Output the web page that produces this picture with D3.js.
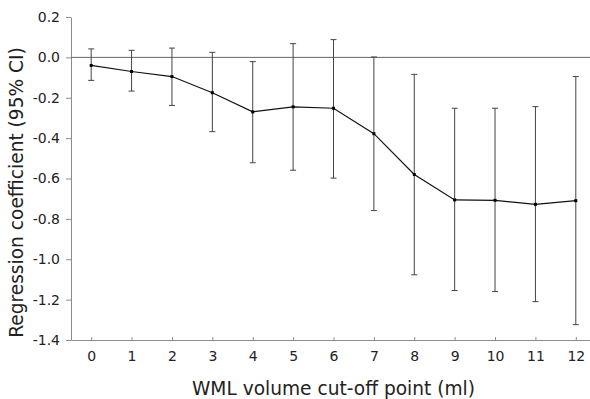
<!DOCTYPE html>
<html><head><meta charset="utf-8">
<script src="https://cdn.jsdelivr.net/npm/d3@7"></script>
<style>body{margin:0;background:#fff}svg{display:block}text{font-family:"DejaVu Sans",Verdana,sans-serif}</style>
</head><body><svg id="c" width="590" height="399"></svg>
<script>
const cutoffs = [0,1,2,3,4,5,6,7,8,9,10,11,12];
const coef  = [-0.04,-0.07,-0.095,-0.175,-0.27,-0.245,-0.252,-0.378,-0.58,-0.706,-0.708,-0.728,-0.71];
const upper = [0.042,0.035,0.046,0.025,-0.021,0.068,0.088,0.002,-0.084,-0.252,-0.252,-0.244,-0.095];
const lower = [-0.114,-0.167,-0.238,-0.368,-0.522,-0.559,-0.598,-0.759,-1.077,-1.155,-1.16,-1.21,-1.324];
const yTicks = [0.2,0.0,-0.2,-0.4,-0.6,-0.8,-1.0,-1.2,-1.4];

const svg = d3.select("#c");
const x = d3.scalePoint().domain(cutoffs).range([71, 596]).padding(0.5);
const y = d3.scaleLinear().domain([-1.4, 0.2]).range([340, 17]);
const axisCol = "#8c8c8c", txt = "#222";

// y axis
const ya = svg.append("g").attr("transform","translate(71,0)")
  .call(d3.axisLeft(y).tickValues(yTicks).tickFormat(d3.format(".1f")).tickSize(5).tickSizeOuter(0));
ya.select(".domain").attr("stroke",axisCol);
ya.selectAll(".tick line").attr("stroke",axisCol);
ya.selectAll(".tick text").attr("fill",txt).attr("font-size",14).attr("x",-11)
  .text(d => d3.format(".1f")(d).replace("−","-"));

// x axis
const xa = svg.append("g").attr("transform","translate(0,340)")
  .call(d3.axisBottom(x).tickSize(-3).tickSizeOuter(0));
xa.select(".domain").attr("stroke",axisCol);
xa.selectAll(".tick line").attr("stroke",axisCol);
xa.selectAll(".tick text").attr("fill",txt).attr("font-size",14).attr("y",11);

// zero line
svg.append("line").attr("x1",71).attr("x2",590).attr("y1",y(0)).attr("y2",y(0))
  .attr("stroke","#666").attr("stroke-width",1);

// error bars
const g = svg.append("g");
cutoffs.forEach((c,i)=>{
  const cx = x(c);
  g.append("line").attr("x1",cx).attr("x2",cx).attr("y1",y(upper[i])).attr("y2",y(lower[i])).attr("stroke","#444");
  g.append("line").attr("x1",cx-3).attr("x2",cx+3).attr("y1",y(upper[i])).attr("y2",y(upper[i])).attr("stroke","#444");
  g.append("line").attr("x1",cx-3).attr("x2",cx+3).attr("y1",y(lower[i])).attr("y2",y(lower[i])).attr("stroke","#444");
});

// line
svg.append("path").datum(cutoffs.map((c,i)=>[x(c),y(coef[i])]))
  .attr("d",d3.line()).attr("fill","none").attr("stroke","#111").attr("stroke-width",1.2);
svg.append("g").selectAll("rect").data(cutoffs).join("rect")
  .attr("x",(d)=>x(d)-1.5).attr("y",(d,i)=>y(coef[i])-1.5).attr("width",3).attr("height",3).attr("fill","#000");

// titles
svg.append("text").attr("x",333.5).attr("y",395).attr("text-anchor","middle").attr("font-size",18.6).attr("fill",txt)
  .text("WML volume cut-off point (ml)");
svg.append("text").attr("transform","translate(23,192.5) rotate(-90)").attr("text-anchor","middle").attr("font-size",18.6).attr("fill",txt)
  .text("Regression coefficient (95% CI)");
</script></body></html>
